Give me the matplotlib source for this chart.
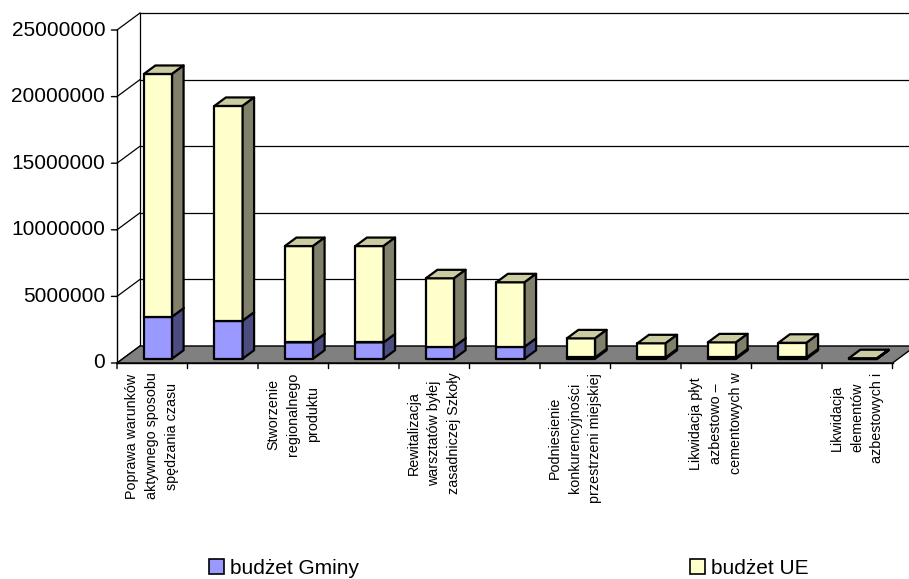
import matplotlib
matplotlib.use("Agg")
import matplotlib.pyplot as plt
from matplotlib.patches import Polygon, Patch

plt.rcParams['font.family'] = ['Liberation Sans', 'DejaVu Sans']

# dane
budzet_gminy = [3.16e6, 2.86e6, 1.23e6, 1.23e6, 0.90e6, 0.90e6, 0.10e6, 0.10e6, 0.10e6, 0.10e6, 0.01e6]
budzet_ue = [18.22e6, 16.12e6, 7.23e6, 7.23e6, 5.14e6, 4.84e6, 1.43e6, 1.06e6, 1.13e6, 1.10e6, 0.03e6]
etykiety = [
    "Poprawa warunków\naktywnego sposobu\nspędzania czasu", "",
    "Stworzenie\nregionalnego\nproduktu", "",
    "Rewitalizacja\nwarsztatów byłej\nzasadniczej Szkoły", "",
    "Podniesienie\nkonkurencyjności\nprzestrzeni miejskiej", "",
    "Likwidacja płyt\nazbestowo –\ncementowych w", "",
    "Likwidacja\nelementów\nazbestowych i",
]
yticks = [0, 5000000, 10000000, 15000000, 20000000, 25000000]

N = len(budzet_ue)
YMAX = 25e6
# glebokosc "3D" w jednostkach danych
DX = 0.326
DY = 1.275e6

SZER = 0.4  # szerokosc slupka

fig = plt.figure(figsize=(9.09, 5.79), dpi=100)
ax = fig.add_axes([0, 0, 1, 1])
# 70.5 px na kategorie, 13.32 px na 1 mln
ax.set_xlim(-117 / 70.5, (909 - 117) / 70.5)
ax.set_ylim(-(579 - 363) / 13.32e-6, 363 / 13.32e-6)
ax.axis('off')

LC = '#000000'

# podloga
ax.add_patch(Polygon([(0, 0), (N, 0), (N + DX, DY), (DX, DY)],
                     closed=True, facecolor='#808080', edgecolor=LC, lw=1, zorder=1))
# linie siatki na tylnej scianie i scianie bocznej
for v in yticks:
    ax.plot([DX, N + DX], [v + DY, v + DY], color=LC, lw=0.9, zorder=0.5)
    ax.plot([0, DX], [v, v + DY], color=LC, lw=0.9, zorder=0.5)
ax.plot([DX, DX], [DY, YMAX + DY], color=LC, lw=0.9, zorder=0.5)
# os Y
ax.plot([0, 0], [0, YMAX], color=LC, lw=1, zorder=3)
for v in yticks:
    ax.annotate('', xy=(0, v), xytext=(-4, 0), textcoords='offset points',
                arrowprops=dict(arrowstyle='-', color=LC, lw=1, shrinkA=0, shrinkB=0))
    ax.annotate(str(v), xy=(0, v), xytext=(-8.5, 0), textcoords='offset points',
                ha='right', va='center', fontsize=15)
# os X
ax.plot([0, N], [0, 0], color=LC, lw=1, zorder=3)
for i in range(N + 1):
    ax.annotate('', xy=(i, 0), xytext=(0, -4), textcoords='offset points',
                arrowprops=dict(arrowstyle='-', color=LC, lw=1, shrinkA=0, shrinkB=0))
for i, t in enumerate(etykiety):
    if t:
        ax.annotate(t, xy=(i + 0.5, 0), xytext=(0, -7), textcoords='offset points',
                    rotation=90, ha='center', va='top', multialignment='center',
                    fontsize=10.3, linespacing=1.55)


def slupek(x0, y0, y1, przod, gora, bok):
    # przod, gora, bok prostopadloscianu
    x1 = x0 + SZER
    ddx, ddy = 0.5 * DX, 0.5 * DY
    ax.add_patch(Polygon([(x0, y0), (x1, y0), (x1, y1), (x0, y1)],
                         facecolor=przod, edgecolor='black', lw=1.6, zorder=4, joinstyle='round'))
    ax.add_patch(Polygon([(x0, y1), (x1, y1), (x1 + ddx, y1 + ddy), (x0 + ddx, y1 + ddy)],
                         facecolor=gora, edgecolor='black', lw=1.6, zorder=4, joinstyle='round'))
    ax.add_patch(Polygon([(x1, y0), (x1 + ddx, y0 + ddy), (x1 + ddx, y1 + ddy), (x1, y1)],
                         facecolor=bok, edgecolor='black', lw=1.6, zorder=4, joinstyle='round'))


for i in range(N):
    x0 = i + 0.3 + 0.25 * DX
    baza = 0.25 * DY
    g = budzet_gminy[i]
    u = budzet_ue[i]
    slupek(x0, baza, baza + g, '#9999FF', '#7A7ACC', '#4C4C80')
    slupek(x0, baza + g, baza + g + u, '#FFFFCC', '#CCCCA3', '#80806B')

h1 = Patch(facecolor='#9999FF', edgecolor='black', lw=1.2)
h2 = Patch(facecolor='#FFFFCC', edgecolor='black', lw=1.2)
leg1 = fig.legend([h1], ['budżet Gminy'], loc='center left', bbox_to_anchor=(209 / 909, 1 - 568 / 579),
                  frameon=False, fontsize=15, borderpad=0, borderaxespad=0,
                  handlelength=0.7, handleheight=0.7, handletextpad=0.3)
leg2 = fig.legend([h2], ['budżet UE'], loc='center left', bbox_to_anchor=(690 / 909, 1 - 568 / 579),
                  frameon=False, fontsize=15, borderpad=0, borderaxespad=0,
                  handlelength=0.7, handleheight=0.7, handletextpad=0.3)

fig.savefig('out.png', dpi=100)
